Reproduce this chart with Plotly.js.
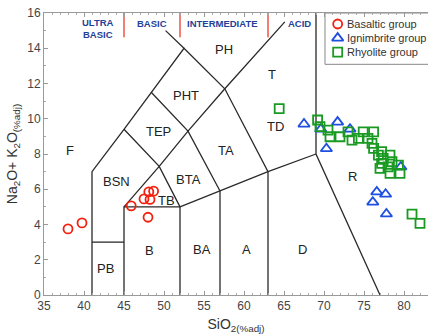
<!DOCTYPE html>
<html>
<head>
<meta charset="utf-8">
<script src="https://cdn.plot.ly/plotly-3.0.1.min.js"></script>
<style>html,body{margin:0;padding:0;background:#fff;}#chart{width:428px;height:334px;}</style>
</head>
<body>
<div id="chart"></div>
<script>
// ---- data ----
const basalticSiO2 = [38.0, 39.75, 45.9, 47.5, 48.25, 48.1, 48.7, 48.0];
const basalticAlk  = [3.75, 4.09, 5.06, 5.45, 5.42, 5.85, 5.89, 4.41];

const ignimbriteSiO2 = [67.5, 69.6, 71.7, 73.25, 70.3, 79.6, 76.6, 77.7, 76.1, 77.8];
const ignimbriteAlk  = [9.70, 9.41, 9.81, 9.41, 8.30, 7.27, 5.85, 5.72, 5.27, 4.60];

const rhyoliteSiO2 = [64.4, 69.2, 69.5, 70.5, 70.75, 72.0, 73.0, 73.5, 74.3, 74.9, 76.2, 75.5, 76.0, 76.2,
                      77.2, 76.8, 77.4, 78.25, 78.5, 77.2, 77.0, 78.0, 79.3, 78.25, 79.5, 81.0, 82.0];
const rhyoliteAlk  = [10.57, 9.93, 9.55, 9.36, 8.98, 8.98, 9.26, 8.79, 8.89, 9.26, 9.26, 8.89, 8.6, 8.32,
                      8.13, 7.94, 7.75, 7.94, 7.56, 7.47, 7.18, 7.27, 7.37, 6.9, 6.9, 4.59, 4.06];

const groupLabels = ['Basaltic group', 'Ignimbrite group', 'Rhyolite group'];

// TAS field boundaries (polylines)
const tasBoundaries = [
  [[41,0],[41,7],[45,9.4],[48.4,11.5],[52.5,14],[57.6,11.7],[63,7],[63,0]],
  [[52.5,14],[50.2,15.0]],
  [[41,3],[45,3]],
  [[45,0],[45,5],[52,5],[52,0]],
  [[45,5],[49.4,7.3],[53,9.3],[57.6,11.7],[65.1,15.5]],
  [[45,9.4],[49.4,7.3],[52,5]],
  [[48.4,11.5],[53,9.3],[57,5.9]],
  [[52,5],[57,5.9],[63,7],[69,8]],
  [[57,0],[57,5.9]],
  [[69,16],[69,8],[77,0]]
];
const silicaDividers = [45, 52, 63];

const fieldNames = ['PH','T','PHT','TD','TEP','F','TA','BSN','BTA','TB','R','B','BA','A','D','PB'];
const fieldX = [57.5, 63.5, 52.8, 63.9, 49.3, 38.2, 57.7, 44.1, 53.0, 50.25, 73.5, 48.2, 54.8, 60.3, 67.3, 42.7];
const fieldY = [13.94, 12.5, 11.3, 9.55, 9.26, 8.2, 8.2, 6.42, 6.57, 5.38, 6.7, 2.54, 2.6, 2.6, 2.6, 1.5];

const silicaGroups = ['ULTRA<br>BASIC', 'BASIC', 'INTERMEDIATE', 'ACID'];
const silicaGroupX = [41.7, 48.5, 57.3, 66.9];
const silicaGroupY = [15.1, 15.38, 15.38, 15.38];

// ---- styles ----
const FONT = 'Liberation Sans, Arial, sans-serif';
const styles = [
  {symbol: 'circle-open', size: 9, color: '#f2200f'},
  {symbol: 'triangle-up-open', size: 10, color: '#1f4fe0'},
  {symbol: 'square-open', size: 9, color: '#1a9a22'}
];
const mk = s => ({symbol: s.symbol, size: s.size, color: s.color, line: {width: 1.8, color: s.color}});

// ---- build ----
const bx = [], by = [];
tasBoundaries.forEach(seg => { seg.forEach(p => { bx.push(p[0]); by.push(p[1]); }); bx.push(null); by.push(null); });
const rx = [], ry = [];
silicaDividers.forEach(v => { rx.push(v, v, null); ry.push(16, 14.62, null); });

// custom legend geometry (paper fractions of the plot area)
const legX0 = 0.7318, legY1 = 1.0, legY0 = 0.818;
const legSymX = 0.7648, legTextX = 0.784;
const legRowY = [0.961, 0.911, 0.861];

const seriesX = [basalticSiO2, ignimbriteSiO2, rhyoliteSiO2];
const seriesY = [basalticAlk, ignimbriteAlk, rhyoliteAlk];

const traces = [
  {x: bx, y: by, mode: 'lines', line: {color: '#2a2a2a', width: 1.3}, showlegend: false, hoverinfo: 'skip'},
  {x: rx, y: ry, mode: 'lines', line: {color: '#f03a2a', width: 1.3}, showlegend: false, hoverinfo: 'skip'}
];
seriesX.forEach((xs, i) => traces.push({x: xs, y: seriesY[i], mode: 'markers', name: groupLabels[i],
  marker: mk(styles[i]), showlegend: false}));
// legend symbols on an overlay axis pair spanning [0,1]
styles.forEach((s, i) => traces.push({x: [legSymX], y: [legRowY[i]], xaxis: 'x2', yaxis: 'y2', mode: 'markers',
  marker: mk(s), showlegend: false, hoverinfo: 'skip', cliponaxis: false}));

const annotations = [];
fieldNames.forEach((n, i) => annotations.push({x: fieldX[i], y: fieldY[i], text: n, showarrow: false,
  font: {family: FONT, size: 13, color: '#222'}}));
silicaGroups.forEach((n, i) => annotations.push({x: silicaGroupX[i], y: silicaGroupY[i], text: '<b>' + n + '</b>', showarrow: false,
  font: {family: FONT, size: 9.5, color: '#1f3f99'}}));
groupLabels.forEach((n, i) => annotations.push({xref: 'paper', yref: 'paper', x: legTextX, y: legRowY[i], text: n,
  showarrow: false, xanchor: 'left', yanchor: 'middle', font: {family: FONT, size: 11, color: '#333'}}));

const axisFont = {family: FONT, size: 12, color: '#444'};
const layout = {
  width: 428, height: 334,
  margin: {l: 44, r: 0, t: 13, b: 39},
  paper_bgcolor: '#fff', plot_bgcolor: '#fff',
  showlegend: false,
  shapes: [{type: 'rect', xref: 'paper', yref: 'paper', x0: legX0, x1: 1.05, y0: legY0, y1: legY1,
            fillcolor: '#fff', line: {color: '#888', width: 1}, layer: 'below'}],
  xaxis: {range: [35, 83], tick0: 35, dtick: 5, showgrid: false, zeroline: false, showline: true, linecolor: '#999', linewidth: 1,
          ticks: 'inside', ticklen: 4, tickcolor: '#999', mirror: 'allticks', tickfont: axisFont,
          minor: {dtick: 1, ticks: 'inside', ticklen: 2, tickcolor: '#aaa'},
          title: {text: 'SiO<sub>2(%adj)</sub>', font: {family: FONT, size: 14, color: '#333'}, standoff: 8}},
  yaxis: {range: [0, 16], dtick: 2, showgrid: false, zeroline: false, showline: true, linecolor: '#999', linewidth: 1,
          ticks: 'inside', ticklen: 4, tickcolor: '#999', tickfont: axisFont,
          minor: {dtick: 1, ticks: 'inside', ticklen: 2, tickcolor: '#aaa'},
          title: {text: 'Na<sub>2</sub>O+ K<sub>2</sub>O<sub>(%adj)</sub>', font: {family: FONT, size: 14, color: '#333'}, standoff: 6}},
  xaxis2: {overlaying: 'x', range: [0, 1], visible: false, fixedrange: true},
  yaxis2: {overlaying: 'y', range: [0, 1], visible: false, fixedrange: true},
  annotations: annotations
};

Plotly.newPlot('chart', traces, layout, {displayModeBar: false, staticPlot: true});
</script>
</body>
</html>
